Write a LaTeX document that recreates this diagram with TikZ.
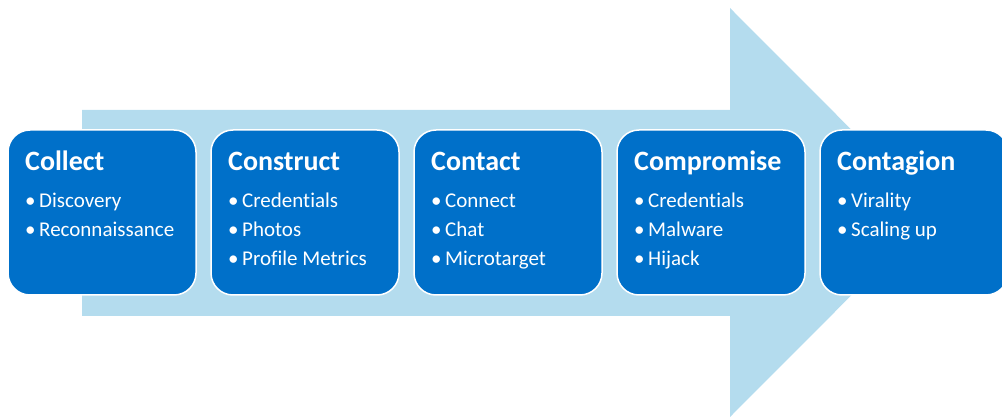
\documentclass[tikz,border=0pt]{standalone}
\usepackage{fontspec}
\setmainfont{Carlito}[Ligatures=NoCommon]
\usetikzlibrary{positioning}

\definecolor{arrowblue}{HTML}{B4DCEE}
\definecolor{boxblue}{HTML}{0070C9}

\tikzset{
  stage/.style={draw=white, line width=1.5pt, fill=boxblue, rounded corners=22pt,
                minimum width=188pt, minimum height=165pt, inner sep=0pt},
  stagetitle/.style={white, anchor=base west, inner sep=0pt,
                font=\fontsize{28}{32}\selectfont\bfseries},
  stageitem/.style={white, anchor=base west, inner sep=0pt,
                font=\fontsize{21}{24}\selectfont}
}

\begin{document}
\begin{tikzpicture}[x=1pt, y=1pt]

  \useasboundingbox (0,0) rectangle (1002,418);

  %big arrow behind
  \draw[fill=arrowblue, draw=none] (82,102) -- (82,308) -- (730,308) -- (730,410)
       -- (934,205.5) -- (730,1) -- (730,102) -- cycle;

  \def\d{203};

  %stages
  \foreach \i/\name/\title/\items in {0/c1/Collect/{Discovery,Reconnaissance},
        1/c2/Construct/{Credentials,Photos,Profile Metrics},
        2/c3/Contact/{Connect,Chat,Microtarget},
        3/c4/Compromise/{Credentials,Malware,Hijack},
        4/c5/Contagion/{Virality,Scaling up}}{
      \node[stage] (\name) at (\i*\d + 8 + 94, 205.5) {};
      \node[stagetitle] (\name t) at (\i*\d + 8 + 17, 247) {\title};
      \foreach \it [count=\j] in \items {
          \node[stageitem] (\name i\j) at (\i*\d + 8 + 17, 239 - \j*29) {\makebox[14pt][l]{•}\it};
      }
  }

\end{tikzpicture}
\end{document}
